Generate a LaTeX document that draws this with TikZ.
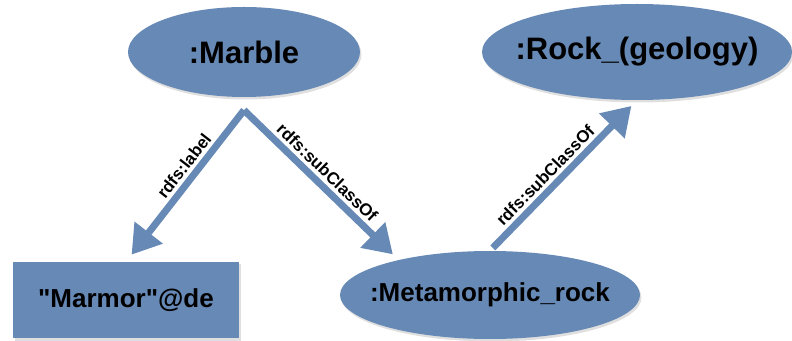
\documentclass[tikz,border=0pt]{standalone}
\usepackage{fontspec}
\setmainfont{Liberation Sans}
\usetikzlibrary{shapes.geometric, arrows.meta, shadows, positioning}
\definecolor{rdfblue}{HTML}{6789B6}

\begin{document}
\begin{tikzpicture}[x=1pt, y=1pt,
        resnode/.style={ellipse, fill=rdfblue, inner sep=0pt, drop shadow={opacity=0.25, shadow xshift=1.5pt, shadow yshift=-2.5pt}},
        litnode/.style={rectangle, fill=rdfblue, inner sep=0pt, drop shadow={opacity=0.25, shadow xshift=1.5pt, shadow yshift=-2.5pt}},
        bigfont/.style={font=\bfseries\fontsize{31}{36}\selectfont},
        smallfont/.style={font=\bfseries\fontsize{26}{30}\selectfont},
        rdfarrow/.style={draw=rdfblue, line width=7pt, -{Triangle[length=28pt, width=34pt]}},
        proplabel/.style={sloped, above, inner sep=3.5pt, font=\bfseries\fontsize{17}{20}\selectfont}]
    \useasboundingbox (0,0) rectangle (792,340);
    % resources and literal
    \node[resnode, bigfont, minimum width=232pt, minimum height=90pt] (marble) at (244,288) {\makebox[0pt]{:Marble}};
    \node[resnode, bigfont, minimum width=310pt, minimum height=96pt] (rock) at (637,288) {\makebox[0pt]{:Rock\_(geology)}};
    \node[resnode, smallfont, minimum width=300pt, minimum height=88pt] (meta) at (490,45) {\makebox[0pt]{:Metamorphic\_rock}};
    \node[litnode, smallfont, minimum width=226pt, minimum height=76pt] (marmor) at (126,40) {\textquotedbl Marmor\textquotedbl @de};
    \coordinate[below=13pt of marble.south] (apex);
    % properties
    \draw[rdfarrow, shorten >=9pt] (apex) -- node[proplabel, pos=0.42] {rdfs:label} (marmor.north);
    \draw[rdfarrow, shorten >=8pt] (apex) -- node[proplabel, pos=0.48] {rdfs:subClassOf} (meta.159);
    \draw[rdfarrow, shorten <=4pt, shorten >=8pt] (meta.north) -- node[proplabel, pos=0.44] {rdfs:subClassOf} (rock.south);
\end{tikzpicture}
\end{document}
